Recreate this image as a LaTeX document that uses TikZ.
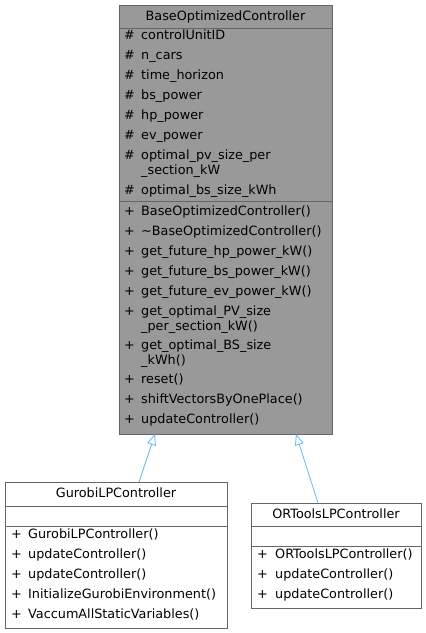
\documentclass[tikz,border=0pt]{standalone}
\usepackage{fontspec}
\setmainfont{DejaVu Sans}
\usetikzlibrary{arrows.meta}
\definecolor{boxgray}{HTML}{999999}
\definecolor{edgegray}{HTML}{666666}
\definecolor{inherit}{HTML}{63B8FF}
\begin{document}
\begin{tikzpicture}[x=1pt,y=-1pt,
  classbox/.style={draw=edgegray,line width=0.8pt,inner sep=0pt,anchor=north west},
  sepline/.style={draw=edgegray,line width=0.8pt},
  txt/.style={inner sep=0pt,anchor=west,font=\fontsize{12.8}{15}\selectfont,text height=10pt,text depth=3pt},
  ttl/.style={inner sep=0pt,anchor=center,font=\fontsize{12.8}{15}\selectfont,text height=10pt,text depth=3pt},
  inh/.style={draw=inherit,line width=0.8pt,-{Triangle[open,length=11pt,width=9pt]}}]
\useasboundingbox (0,0) rectangle (426,633);
% base class
\node[classbox,fill=boxgray,minimum width=213pt,minimum height=429pt] (base) at (119,5) {};
\draw[sepline] (119,28) -- (332,28);
\draw[sepline] (119,201) -- (332,201);
\node[ttl] (bt) at (225.5,17) {BaseOptimizedController};
\foreach \y/\t [count=\i] in {36/controlUnitID,56/n\_cars,76/time\_horizon,96/bs\_power,116/hp\_power,136/ev\_power,156/optimal\_pv\_size\_per,191/optimal\_bs\_size\_kWh}{
  \node[txt] (ba\i) at (124,\y) {\#};
  \node[txt] (bat\i) at (141,\y) {\t};
}
\node[txt] (bacont) at (141,171) {\_section\_kW};
\foreach \y/\t [count=\i] in {212/BaseOptimizedController(),252/get\_future\_hp\_power\_kW(),272/get\_future\_bs\_power\_kW(),292/get\_future\_ev\_power\_kW(),312/get\_optimal\_PV\_size,346/get\_optimal\_BS\_size,380/reset(),400/shiftVectorsByOnePlace(),420/updateController()}{
  \node[txt] (bm\i) at (124,\y) {+};
  \node[txt] (bmt\i) at (141,\y) {\t};
}
\node[txt] (bmd) at (124,232) {+};
\node[txt] (bmdt) at (141,232) {\char"7E BaseOptimizedController()};
\node[txt] (bmc1) at (141,327) {\_per\_section\_kW()};
\node[txt] (bmc2) at (141,361) {\_kWh()};
% Gurobi
\node[classbox,fill=white,minimum width=222pt,minimum height=146pt] (gur) at (5,482) {};
\draw[sepline] (5,506) -- (227,506);
\draw[sepline] (5,526) -- (227,526);
\node[ttl] (gt) at (116,494) {GurobiLPController};
\foreach \y/\t [count=\i] in {535/GurobiLPController(),555/updateController(),575/updateController(),595/InitializeGurobiEnvironment(),615/VaccumAllStaticVariables()}{
  \node[txt] (gm\i) at (11,\y) {+};
  \node[txt] (gmt\i) at (28,\y) {\t};
}
% ORTools
\node[classbox,fill=white,minimum width=170pt,minimum height=105pt] (ort) at (251,503) {};
\draw[sepline] (251,526) -- (421,526);
\draw[sepline] (251,546) -- (421,546);
\node[ttl] (ot) at (336,515) {ORToolsLPController};
\foreach \y/\t [count=\i] in {555/ORToolsLPController(),575/updateController(),595/updateController()}{
  \node[txt] (om\i) at (257,\y) {+};
  \node[txt] (omt\i) at (275,\y) {\t};
}
% inheritance
\coordinate (g1) at (139,482);
\coordinate (b1) at (155,434);
\coordinate (o1) at (318,503);
\coordinate (b2) at (296,434);
\draw[inh] (g1) -- (b1);
\draw[inh] (o1) -- (b2);
\end{tikzpicture}
\end{document}
